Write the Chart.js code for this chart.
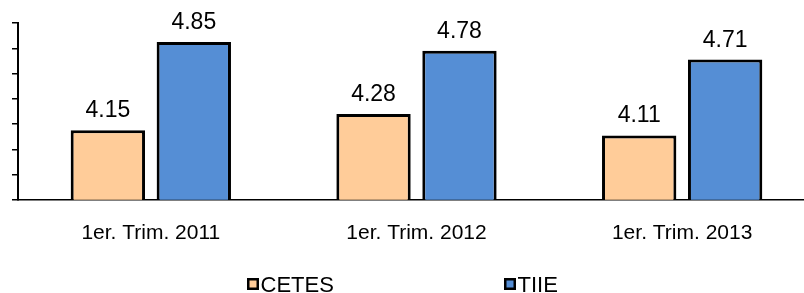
<!DOCTYPE html>
<html>
<head>
<meta charset="utf-8">
<script src="https://cdn.jsdelivr.net/npm/chart.js@4/dist/chart.umd.min.js"></script>
<style>
  html, body { margin: 0; padding: 0; background: #fff; overflow: hidden; }
  #wrap { width: 815px; height: 293px; position: relative; }
</style>
</head>
<body>
<div id="wrap"><canvas id="chart"></canvas></div>
<script>
const CATEGORIES = ["1er. Trim. 2011", "1er. Trim. 2012", "1er. Trim. 2013"]
const CETES = [4.15, 4.28, 4.11]
const TIIE = [4.85, 4.78, 4.71]
const SERIES_NAMES = ["CETES", "TIIE"]
const COLORS = ["#FFCC99", "#558ED5"]

const FONT = '"Liberation Sans", Arial, sans-serif'

// numbers above each bar
const valueLabels = {
  id: 'valueLabels',
  afterDatasetsDraw(chart) {
    const ctx = chart.ctx
    ctx.save()
    ctx.font = '23px ' + FONT
    ctx.fillStyle = '#000'
    ctx.textAlign = 'center'
    ctx.textBaseline = 'alphabetic'
    chart.data.datasets.forEach((ds, i) => {
      chart.getDatasetMeta(i).data.forEach((bar, j) => {
        ctx.fillText(ds.data[j].toFixed(2), bar.x, bar.y - 13)
      })
    })
    ctx.restore()
  }
}

// legend with small square boxes, spread out like the original
const boxLegend = {
  id: 'boxLegend',
  afterDraw(chart) {
    const ctx = chart.ctx
    const xs = [247, 504]
    const y = 284
    ctx.save()
    ctx.font = '22px ' + FONT
    ctx.textBaseline = 'alphabetic'
    ctx.textAlign = 'left'
    chart.data.datasets.forEach((ds, i) => {
      const x = xs[i]
      ctx.fillStyle = '#000'
      ctx.fillRect(x, y - 6, 12, 12)
      ctx.fillStyle = ds.backgroundColor
      ctx.fillRect(x + 2.5, y - 3.5, 7, 7)
      ctx.fillStyle = '#000'
      ctx.fillText(ds.label, x + 13.5, y + 8)
    })
    ctx.restore()
  }
}

new Chart(document.getElementById('chart'), {
  type: 'bar',
  data: {
    labels: CATEGORIES,
    datasets: [
      { label: SERIES_NAMES[0], data: CETES, backgroundColor: COLORS[0] },
      { label: SERIES_NAMES[1], data: TIIE, backgroundColor: COLORS[1] }
    ]
  },
  options: {
    responsive: true,
    maintainAspectRatio: false,
    animation: false,
    layout: { padding: { left: 12, right: 0, top: 23, bottom: 27 } },
    datasets: {
      bar: {
        borderColor: '#000',
        borderWidth: 3,
        borderSkipped: false,
        categoryPercentage: 0.647,
        barPercentage: 0.865
      }
    },
    plugins: {
      legend: { display: false },
      tooltip: { enabled: false }
    },
    scales: {
      x: {
        grid: { display: false, drawTicks: false },
        border: { display: true, color: '#000', width: 1.5 },
        ticks: {
          color: '#000',
          padding: 20.5,
          font: { family: FONT, size: 21 }
        }
      },
      y: {
        min: 3.6,
        max: 5.0,
        grid: { drawOnChartArea: false, drawTicks: true, tickLength: 6, color: '#000', lineWidth: 1.5 },
        border: { display: true, color: '#000', width: 2 },
        ticks: { display: false, stepSize: 0.2 }
      }
    }
  },
  plugins: [valueLabels, boxLegend]
})
</script>
</body>
</html>
